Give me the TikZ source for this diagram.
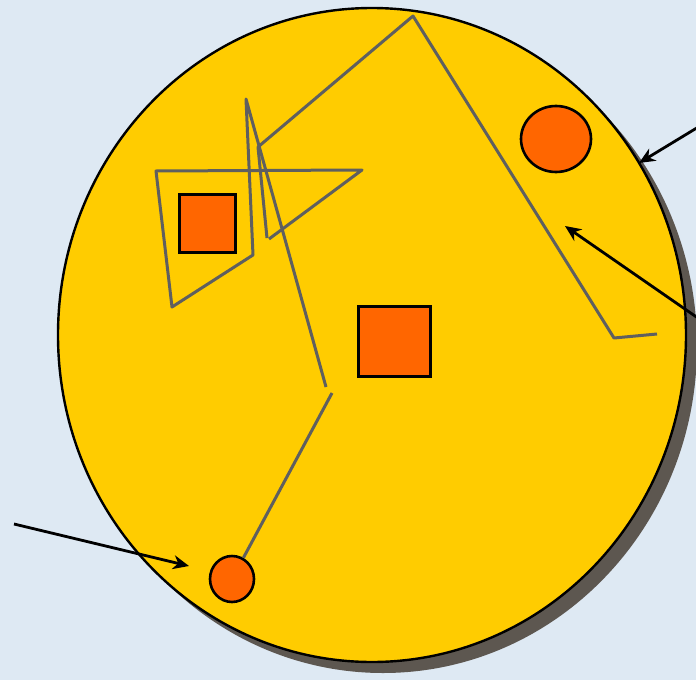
\documentclass[tikz,border=0pt]{standalone}
\usepackage{tikz}
\usetikzlibrary{shapes.geometric,arrows.meta}
\definecolor{skyback}{RGB}{222,233,243}
\definecolor{sun}{RGB}{255,204,0}
\definecolor{flame}{RGB}{255,102,0}
\definecolor{shadowgray}{RGB}{93,87,80}
\definecolor{pengray}{RGB}{95,95,95}

\begin{document}
\begin{tikzpicture}[x=1pt,y=-1pt,>={Stealth[length=16pt,width=14pt,inset=5pt]},
    disc/.style={ellipse,draw,line width=2.4pt,fill=sun,inner sep=0pt,minimum width=628pt,minimum height=654pt},
    discshadow/.style={ellipse,fill=shadowgray,inner sep=0pt,minimum width=628pt,minimum height=654pt},
    blob/.style={ellipse,draw,line width=2.6pt,fill=flame,inner sep=0pt},
    box/.style={rectangle,draw,line width=3pt,fill=flame,inner sep=0pt},
    scribble/.style={pengray,line width=3pt,line join=round},
    pointer/.style={->,line width=2.8pt}]

  % frame and backdrop
  \clip (0,0) rectangle (696,680);
  \fill[skyback] (0,0) rectangle (696,680);

  % the big disc with its shadow
  \node[discshadow] (shadow) at (383,346) {};
  \node[disc] (world) at (372,335) {};

  % things inside
  \node[box,minimum width=56pt,minimum height=58pt] (smallbox) at (207,223) {};
  \node[box,minimum width=72pt,minimum height=70pt] (bigbox) at (394,341) {};
  \node[blob,minimum width=70pt,minimum height=66pt] (topdot) at (556,139) {};
  \node[blob,minimum width=44pt,minimum height=46pt] (lowdot) at (232,579) {};

  % --- the scribbled path ---
  \draw[scribble] (657,334) -- (614,338) -- (413,16) -- (258,147) -- (267,238);
  \draw[scribble] (269,239) -- (362,170) -- (156,171) -- (172,307) -- (253,255)
    -- (246,99) -- (326,387);
  \draw[scribble] (332,393) -- (lowdot);

  % --- pointers from outside ---
  \coordinate (rimtip) at (639,163);
  \coordinate (rimtail) at (700,126);
  \coordinate (insidetip) at (565,226);
  \coordinate (insidetail) at (708,325);
  \coordinate (dottip) at (189,566);
  \coordinate (dottail) at (14,524);
  \draw[pointer] (rimtail) -- (rimtip);
  \draw[pointer] (insidetail) -- (insidetip);
  \draw[pointer] (dottail) -- (dottip);
\end{tikzpicture}
\end{document}
